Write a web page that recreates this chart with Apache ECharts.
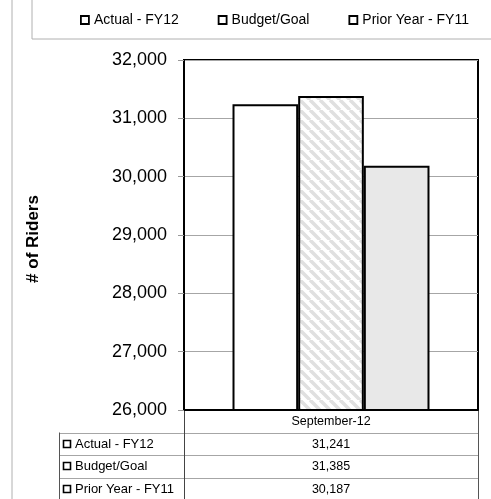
<!DOCTYPE html>
<html>
<head>
<meta charset="utf-8">
<script src="https://cdn.jsdelivr.net/npm/echarts@6/dist/echarts.min.js"></script>
<style>
  html, body { margin: 0; padding: 0; background: #fff; }
  #chart { width: 491px; height: 499px; }
</style>
</head>
<body>
<div id="chart"></div>
<script>
// Monthly ridership vs. budget and prior year
const categories = ['September-12'];
const seriesNames = ['Actual - FY12', 'Budget/Goal', 'Prior Year - FY11'];
const actualFY12 = [31241];
const budgetGoal = [31385];
const priorYearFY11 = [30187];
const yTicks = { min: 26000, max: 32000, step: 1000 };

const FONT = '"Liberation Sans", Arial, sans-serif';

// Diagonal hatch used for the budget bar
function hatchPattern() {
  const s = 10;
  const c = document.createElement('canvas');
  c.width = s; c.height = s;
  const g = c.getContext('2d');
  g.fillStyle = '#ffffff';
  g.fillRect(0, 0, s, s);
  g.strokeStyle = '#e0e0e0';
  g.lineWidth = 3.5;
  for (const x0 of [-s, 0, s]) {
    g.beginPath();
    g.moveTo(x0, 0);
    g.lineTo(x0 + s, s);
    g.stroke();
  }
  return c;
}

const fills = ['#ffffff', { image: hatchPattern(), repeat: 'repeat' }, '#e8e8e8'];
const values = [actualFY12, budgetGoal, priorYearFY11];

const grid = { left: 184, top: 60, width: 294, height: 350 };
const chart = echarts.init(document.getElementById('chart'), null, { renderer: 'canvas' });

const fmt = v => v.toLocaleString('en-US');

// Data table under the plot
const rowH = 22.5;
const tableTop = grid.top + grid.height;
const tableLeft = 59;
const gx0 = grid.left, gx1 = grid.left + grid.width;
const lineGray = '#a6a6a6';
const graphics = [];

// outer frame and legend box
graphics.push({ type: 'line', shape: { x1: 12, y1: 0, x2: 12, y2: 499 }, style: { stroke: '#b0b0b0', lineWidth: 1 } });
graphics.push({ type: 'polyline', shape: { points: [[32, -5], [32, 39], [500, 39]] }, style: { stroke: '#b0b0b0', lineWidth: 1, fill: null } });

// header row
graphics.push({ type: 'text', style: { x: (gx0 + gx1) / 2, y: tableTop + rowH / 2 + 0.5, text: categories[0], align: 'center', verticalAlign: 'middle', font: '12.5px ' + FONT, fill: '#000' } });
for (let i = 1; i <= 3; i++) {
  const y = Math.round(tableTop + rowH * i) + 0.5;
  graphics.push({ type: 'line', shape: { x1: tableLeft, y1: y, x2: gx1, y2: y }, style: { stroke: lineGray, lineWidth: 1 } });
}
graphics.push({ type: 'line', shape: { x1: tableLeft + 0.5, y1: tableTop + rowH, x2: tableLeft + 0.5, y2: 499 }, style: { stroke: '#555', lineWidth: 1 } });
graphics.push({ type: 'line', shape: { x1: gx0 + 0.5, y1: tableTop, x2: gx0 + 0.5, y2: 499 }, style: { stroke: '#444', lineWidth: 1 } });
graphics.push({ type: 'line', shape: { x1: gx1 + 0.5, y1: tableTop, x2: gx1 + 0.5, y2: 499 }, style: { stroke: '#555', lineWidth: 1 } });

seriesNames.forEach((name, i) => {
  const cy = tableTop + rowH * (i + 1.5);
  graphics.push({ type: 'rect', shape: { x: 63.5, y: Math.round(cy) - 3.5, width: 7, height: 7 }, style: { fill: '#fff', stroke: '#000', lineWidth: 1.6 } });
  graphics.push({ type: 'text', style: { x: 75, y: cy + 0.5, text: name, align: 'left', verticalAlign: 'middle', font: '13px ' + FONT, fill: '#000' } });
  graphics.push({ type: 'text', style: { x: (gx0 + gx1) / 2, y: cy + 0.5, text: fmt(values[i][0]), align: 'center', verticalAlign: 'middle', font: '12.5px ' + FONT, fill: '#000' } });
});

chart.setOption({
  animation: false,
  backgroundColor: '#fff',
  textStyle: { fontFamily: FONT },
  legend: {
    left: 75, top: 8,
    itemWidth: 8, itemHeight: 8, itemGap: 39,
    icon: 'rect',
    textStyle: { fontSize: 14, color: '#000', fontFamily: FONT },
    data: seriesNames.map(n => ({ name: n, itemStyle: { color: '#fff', borderColor: '#000', borderWidth: 1.8, decal: 'none' } }))
  },
  grid: Object.assign({ show: true, borderColor: '#000', borderWidth: 2, backgroundColor: 'transparent' }, grid),
  xAxis: {
    type: 'category',
    data: categories,
    axisLine: { show: true, lineStyle: { color: '#000', width: 2 } },
    axisTick: { show: false },
    axisLabel: { show: false }
  },
  yAxis: {
    type: 'value',
    min: yTicks.min, max: yTicks.max, interval: yTicks.step,
    name: '# of Riders',
    nameLocation: 'middle',
    nameGap: 142,
    nameTextStyle: { fontSize: 17, fontWeight: 'bold', color: '#000', fontFamily: FONT, padding: [0, 8, 0, 0] },
    axisLine: { show: true, lineStyle: { color: '#000', width: 2 } },
    axisTick: { show: true, length: 6, lineStyle: { color: '#999' } },
    axisLabel: { fontSize: 18, color: '#000', margin: 17, formatter: v => fmt(v) },
    splitLine: { show: true, lineStyle: { color: '#a6a6a6', width: 1 } }
  },
  series: seriesNames.map((name, i) => ({
    name,
    type: 'bar',
    data: values[i],
    barGap: '0%',
    barCategoryGap: '33%',
    itemStyle: { color: fills[i], borderColor: '#000', borderWidth: 2 },
    emphasis: { disabled: true }
  })),
  graphic: graphics
});
</script>
</body>
</html>
